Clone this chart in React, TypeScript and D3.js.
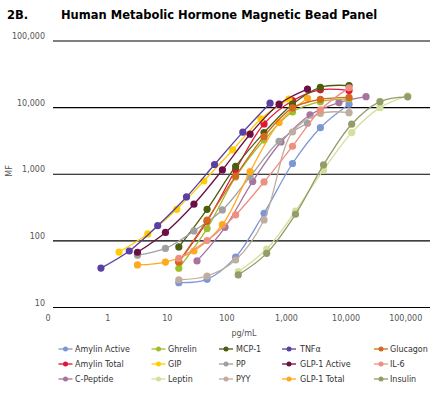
import * as d3 from "d3";

const WIDTH = 445;
const HEIGHT = 394;

const X_TICKS = [0.1, 1, 10, 100, 1000, 10000, 100000];
const Y_TICKS = [10, 100, 1000, 10000, 100000];

// standard curve concentrations (pg/mL), 3-fold dilutions
const concTNF = [0.77, 2.3, 6.9, 21, 62, 185, 530];
const concGIP = [1.55, 4.7, 14.4, 41, 125, 373, 1100];
const concGLP = [3.16, 9.3, 28, 84, 245, 750, 2250];
const concMid = [15.6, 46.5, 140, 420, 1260, 3700, 11200];
const concCPep = [31.5, 93, 271, 809, 2480, 7590, 21600];
const concHigh = [155, 465, 1416, 4180, 12400, 37000, 108000];

// MFI read per analyte
const mfiAmylinActive = [23.6, 26.5, 57, 260, 1450, 5000, 11250];
const mfiAmylinTotal = [48, 197, 1160, 5700, 12700, 18500, 18000];
const mfiCPeptide = [50, 160, 780, 3050, 7760, 11900, 14600];
const mfiGhrelin = [38.8, 153, 910, 3270, 8600, 12300, 13500];
const mfiGIP = [68, 127, 298, 792, 2320, 6760, 13400];
const mfiLeptin = [34.5, 75.5, 281, 1160, 4220, 10000, 15000];
const mfiMCP1 = [81, 298, 1310, 4220, 11250, 20200, 21400];
const mfiPP = [61, 77, 141, 291, 920, 3130, 5830];
const mfiPYY = [26.1, 29.7, 51.6, 206, 4310, 8190, 8410];
const mfiTNF = [39, 70.5, 169, 456, 1400, 4280, 11650];
const mfiGLP1Active = [67.5, 134, 355, 1160, 3990, 11250, 18900];
const mfiGLP1Total = [43.5, 48, 70.5, 175, 1095, 5960, 13800];
const mfiGlucagon = [48, 205, 940, 3700, 9900, 13300, 14300];
const mfiIL6 = [54.5, 101, 245, 766, 2630, 9230, 19800];
const mfiInsulin = [30.8, 65, 251, 1380, 5640, 12300, 14500];

const seriesNames = [
  "Amylin Active", "Amylin Total", "C-Peptide",
  "Ghrelin", "GIP", "Leptin",
  "MCP-1", "PP", "PYY",
  "TNF\u03b1", "GLP-1 Active", "GLP-1 Total",
  "Glucagon", "IL-6", "Insulin",
];
const seriesColors = [
  "#7f96d4", "#e0153c", "#a7749f",
  "#9fbd2a", "#ffcc00", "#d4e09b",
  "#4a5e0d", "#a0a0a0", "#bfae9f",
  "#5b3fa3", "#6b0f45", "#ffaa1a",
  "#d2691e", "#ef8f80", "#949c6a",
];
const seriesConc = [
  concMid, concMid, concCPep,
  concMid, concGIP, concHigh,
  concMid, concGLP, concMid,
  concTNF, concGLP, concGLP,
  concMid, concMid, concHigh,
];
const seriesMfi = [
  mfiAmylinActive, mfiAmylinTotal, mfiCPeptide,
  mfiGhrelin, mfiGIP, mfiLeptin,
  mfiMCP1, mfiPP, mfiPYY,
  mfiTNF, mfiGLP1Active, mfiGLP1Total,
  mfiGlucagon, mfiIL6, mfiInsulin,
];

const FONT = "'DejaVu Sans', Verdana, sans-serif";
const LEGEND_MARK_X = [65.5, 158.5, 226, 289, 381];
const LEGEND_TEXT_X = [75, 168, 236, 300, 390];
const LEGEND_ROW_Y = [349, 364, 379];

export default function App() {
  const x = d3.scaleLog().domain([0.1, 100000]).range([48.1, 405.7]);
  const y = d3.scaleLog().domain([10, 100000]).range([307.5, 41]);
  const gridLeft = 53;
  const gridRight = 430;

  const line = d3
    .line<[number, number]>()
    .x((d) => x(d[0]))
    .y((d) => y(d[1]))
    .curve(d3.curveCatmullRom.alpha(0.5));

  const series = seriesNames.map((name, i) => ({
    name,
    color: seriesColors[i],
    points: seriesConc[i].map((c, j) => [c, seriesMfi[i][j]] as [number, number]),
  }));

  const fmt = d3.format(",");

  return (
    <svg
      width={WIDTH}
      height={HEIGHT}
      style={{ position: "absolute", left: 0, top: 0, background: "#fff" }}
      fontFamily={FONT}
    >
      {/* title */}
      <text x={7} y={19} fontSize={11.5} fontWeight="bold" fill="#000">2B.</text>
      <text x={61} y={19} fontSize={11.5} fontWeight="bold" fill="#000">
        Human Metabolic Hormone Magnetic Bead Panel
      </text>

      {/* grid */}
      {Y_TICKS.map((t) => (
        <g key={t}>
          <line x1={gridLeft} x2={gridRight} y1={y(t)} y2={y(t)} stroke="#000" strokeWidth={1.1} />
          <text x={45} y={y(t) - 2} fontSize={8} textAnchor="end" fill="#555">
            {fmt(t)}
          </text>
        </g>
      ))}
      {X_TICKS.map((t) => (
        <text key={t} x={x(t)} y={321} fontSize={8} textAnchor="middle" fill="#555">
          {t < 1 ? "0" : fmt(t)}
        </text>
      ))}
      <text x={244} y={336} fontSize={8} textAnchor="middle" fill="#555">pg/mL</text>
      <text transform="translate(12,171) rotate(-90)" fontSize={8} textAnchor="middle" fill="#555">MF</text>

      {/* curves */}
      {series.map((s) => (
        <g key={s.name}>
          <path d={line(s.points) ?? ""} fill="none" stroke={s.color} strokeWidth={1.3} />
          {s.points.map((p, j) => (
            <circle key={j} cx={x(p[0])} cy={y(p[1])} r={3.6} fill={s.color} />
          ))}
        </g>
      ))}

      {/* legend */}
      {series.map((s, i) => {
        const col = Math.floor(i / 3);
        const row = i % 3;
        const mx = LEGEND_MARK_X[col];
        const my = LEGEND_ROW_Y[row];
        return (
          <g key={s.name}>
            <line x1={mx - 7} x2={mx + 7} y1={my} y2={my} stroke={s.color} strokeWidth={1.3} />
            <circle cx={mx} cy={my} r={2.5} fill={s.color} />
            <text x={LEGEND_TEXT_X[col]} y={my + 3} fontSize={8} fill="#333">{s.name}</text>
          </g>
        );
      })}
    </svg>
  );
}
